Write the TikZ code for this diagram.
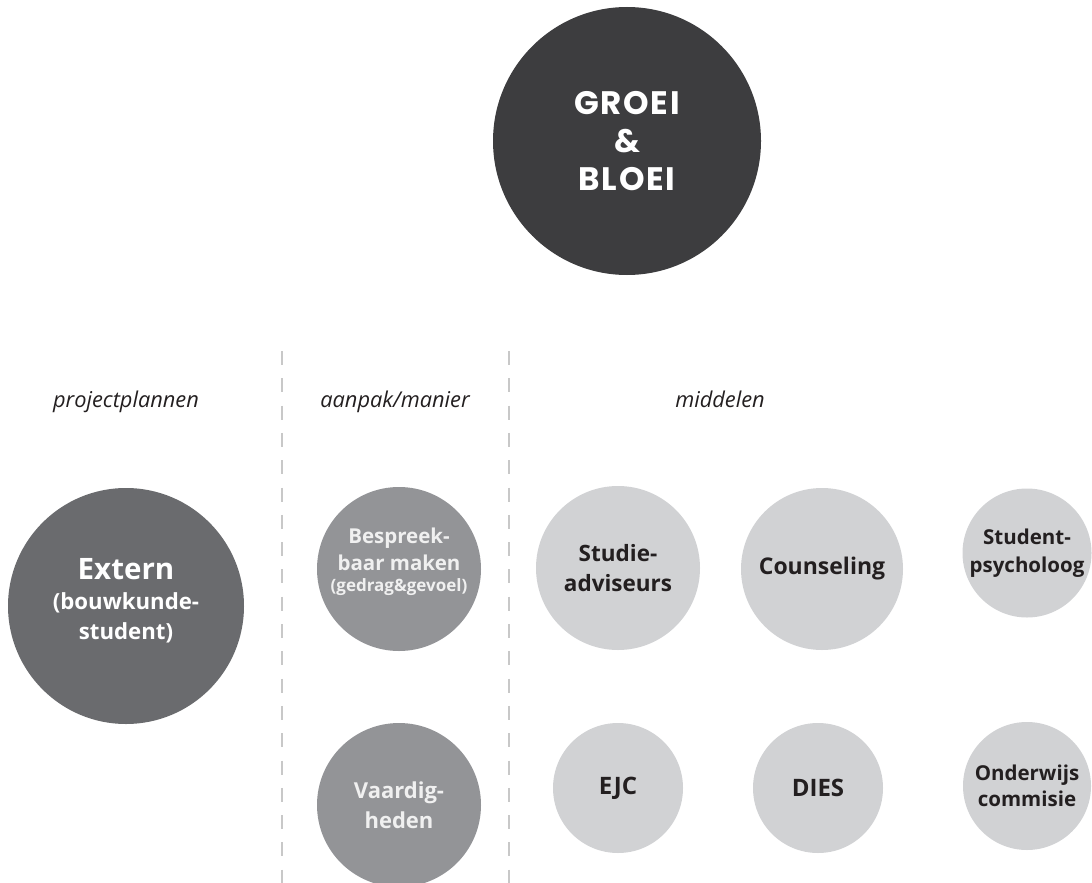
\documentclass[tikz,border=0pt]{standalone}
\usepackage{fontspec}
\setmainfont{Open Sans}
\newfontfamily\titlefont{Poppins}[BoldFont=* Bold,LetterSpace=5]
\definecolor{topdark}{HTML}{3D3D3F}
\definecolor{middark}{HTML}{6A6B6E}
\definecolor{midgray}{HTML}{939497}
\definecolor{lightgray}{HTML}{D1D2D4}
\definecolor{ink}{HTML}{231F20}
\definecolor{dashgray}{HTML}{C8C8C8}
\newcommand{\fsz}[2]{\fontsize{#1}{#2}\selectfont}
\begin{document}
\begin{tikzpicture}[x=1pt,y=-1pt,
  bubble/.style={circle,inner sep=0pt,align=center,font=\bfseries\fsz{22.5}{29.5}},
  lightb/.style={bubble,fill=lightgray,text=ink},
  midb/.style={bubble,fill=midgray,text=white!94!black},
  txt/.style={inner sep=0pt,align=center},
  colhead/.style={anchor=base,text=ink,font=\itshape\fsz{21.8}{24},inner sep=0pt},
  divider/.style={draw=dashgray,line width=2.2pt,dash pattern=on 14pt off 13.3pt}]
\useasboundingbox (0,0) rectangle (1092,883);
% top
\node[bubble,fill=topdark,text=white,minimum size=268pt,
  font=\titlefont\bfseries\fsz{32.5}{38}] (groei) at (627,141) {GROEI\\\&\\BLOEI};
% column heads
\node[colhead] (h1) at (126,407) {projectplannen};
\node[colhead] (h2) at (395,407) {aanpak/manier};
\node[colhead] (h3) at (720,407) {middelen};
% dividers
\coordinate (d1t) at (282,351); \coordinate (d1b) at (282,883);
\coordinate (d2t) at (509,351); \coordinate (d2b) at (509,883);
\draw[divider] (d1t) -- (d1b);
\draw[divider] (d2t) -- (d2b);
% extern
\node[bubble,fill=middark,minimum size=236pt] (extern) at (126,606) {};
\node[txt,text=white,font=\bfseries\fsz{22.2}{30}] (externt) at (126,601)
  {{\fsz{29.5}{30}Extern}\\(bouwkunde-\\student)};
% aanpak
\node[midb,minimum size=164pt] (bespreek) at (399,569) {};
\node[txt,text=white!94!black,font=\bfseries\fsz{20.5}{27}] (bespreekt) at (399,562)
  {Bespreek-\\baar maken\\[-6pt]{\fsz{17}{18}(gedrag\&gevoel)}};
\node[midb,minimum size=164pt,font=\bfseries\fsz{22}{30}] (vaardig) at (399,805) {Vaardig-\\heden};
% middelen
\node[lightb,minimum size=164pt] (studie) at (618,568) {Studie-\\adviseurs};
\node[lightb,minimum size=162pt,font=\bfseries\fsz{23}{29}] (couns) at (822,569) {Counseling};
\node[lightb,minimum size=129pt,font=\bfseries\fsz{20.5}{28}] (psych) at (1027,553) {Student-\\psycholoog};
\node[lightb,minimum size=130pt,font=\bfseries\fsz{24}{29}] (ejc) at (618,788) {EJC};
\node[lightb,minimum size=130pt,font=\bfseries\fsz{24}{29}] (dies) at (818,788) {DIES};
\node[lightb,minimum size=128pt,font=\bfseries\fsz{20.5}{26}] (onderw) at (1027,786) {Onderwijs\\commisie};
\end{tikzpicture}
\end{document}
